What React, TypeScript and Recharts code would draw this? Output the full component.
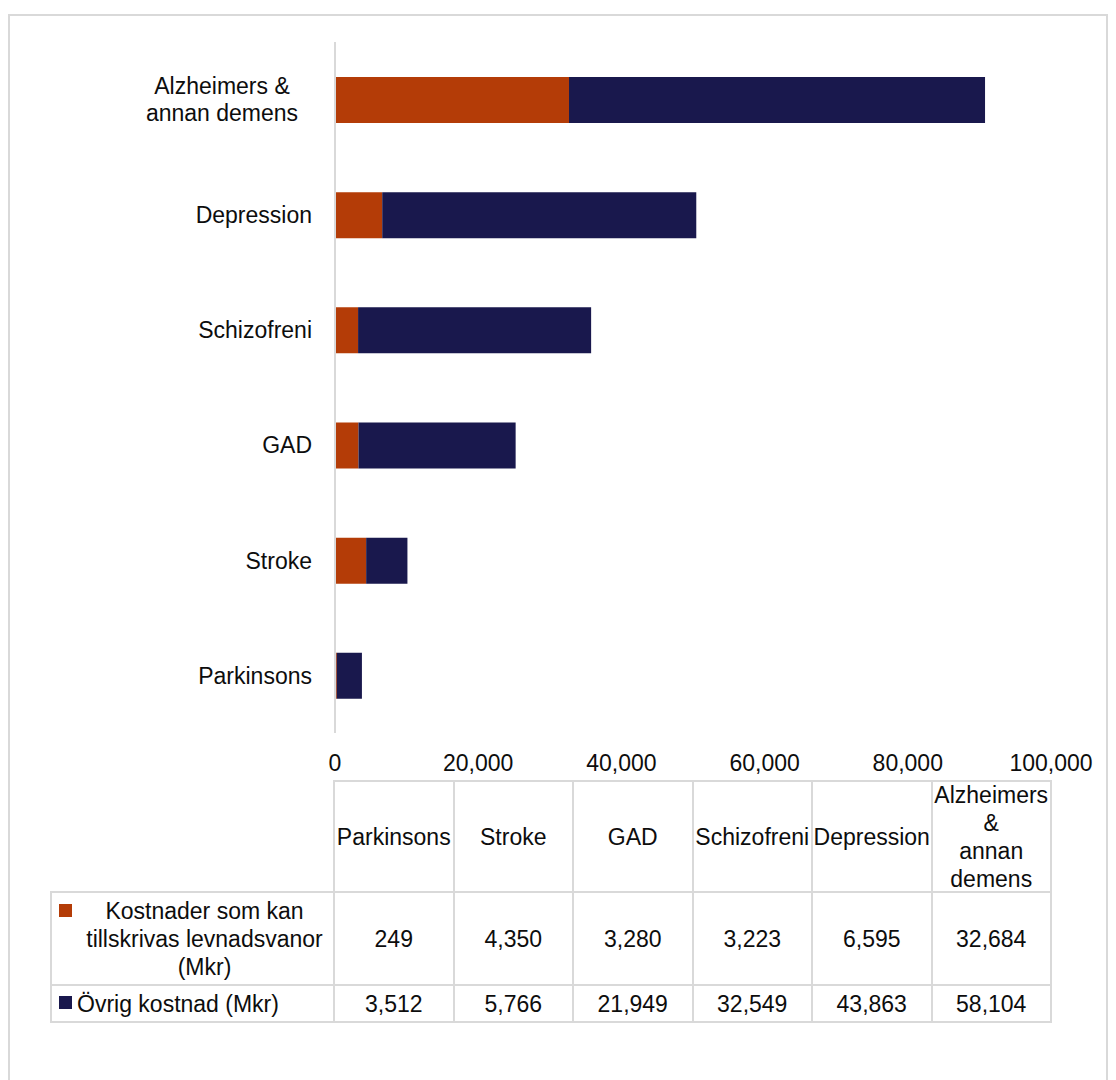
import React from 'react';
import { BarChart, Bar, XAxis, YAxis } from 'recharts';

const categories = ['Parkinsons', 'Stroke', 'GAD', 'Schizofreni', 'Depression', 'Alzheimers & annan demens'];
const lifestyleCosts = [249, 4350, 3280, 3223, 6595, 32684];
const otherCosts = [3512, 5766, 21949, 32549, 43863, 58104];
const xTicks = [0, 20000, 40000, 60000, 80000, 100000];

const seriesNames = ['Kostnader som kan tillskrivas levnadsvanor (Mkr)', 'Övrig kostnad (Mkr)'];
const seriesLabelLines = [['Kostnader som kan', 'tillskrivas levnadsvanor', '(Mkr)'], ['Övrig kostnad (Mkr)']];

const ORANGE = '#B43C07';
const NAVY = '#19184D';
const GRID = '#d9d9d9';
const FONT = '"Liberation Sans", Arial, sans-serif';
const FS = 23;

const data = categories.map((name, i) => ({
  name,
  lifestyle: lifestyleCosts[i],
  other: otherCosts[i],
}));

const fmt = (v: number) => v.toLocaleString('en-US');

// split long category names into two lines for the y axis
function wrapLabel(s: string): string[] {
  if (s.length <= 14) return [s];
  const words = s.split(' ');
  const half = Math.ceil(words.length / 2);
  return [words.slice(0, half).join(' '), words.slice(half).join(' ')];
}

const CategoryTick = ({ x, y, payload }: { x: number; y: number; payload: { value: string } }) => {
  const lines = wrapLabel(payload.value);
  if (lines.length === 1) {
    return (
      <text x={x - 23} y={y} dy="0.36em" textAnchor="end" fontSize={FS} fontFamily={FONT} fill="#0d0d0d">
        {payload.value}
      </text>
    );
  }
  const cx = x - 36 - 77;
  return (
    <text textAnchor="middle" fontSize={FS} fontFamily={FONT} fill="#0d0d0d">
      {lines.map((l, i) => (
        <tspan key={i} x={cx} y={y + (i - (lines.length - 1) / 2) * 27} dy="0.36em">
          {l}
        </tspan>
      ))}
    </text>
  );
};

// table geometry (container coords, container sits at page 8,8)
const colEdges = [43, 326, 445.5, 565, 684.5, 804, 923.5, 1043];
const rowEdges = [773, 884, 977, 1014];

function Cell({ c, r, children, align = 'center' }: { c: number; r: number; children?: React.ReactNode; align?: string }) {
  return (
    <div
      style={{
        position: 'absolute',
        left: colEdges[c] - 1,
        top: rowEdges[r] - 1,
        width: colEdges[c + 1] - colEdges[c] + 2,
        height: rowEdges[r + 1] - rowEdges[r] + 2,
        border: `2px solid ${GRID}`,
        boxSizing: 'border-box',
        display: 'flex',
        alignItems: 'center',
        justifyContent: align,
        textAlign: 'center',
        fontSize: FS,
        lineHeight: '28px',
        color: '#0d0d0d',
        background: '#fff',
      }}
    >
      {children}
    </div>
  );
}

function Swatch({ color, top }: { color: string; top: number }) {
  return (
    <div style={{ position: 'absolute', left: 7, top, width: 13, height: 13, background: color }} />
  );
}

export default function App() {
  const seriesValues = [lifestyleCosts, otherCosts];
  const seriesColors = [ORANGE, NAVY];
  return (
    <div style={{ position: 'relative', width: 1100, height: 1072, fontFamily: FONT, overflow: 'hidden' }}>
      <div
        style={{
          position: 'absolute',
          left: 0,
          top: 6,
          width: 1100,
          height: 1100,
          border: `2px solid ${GRID}`,
          boxSizing: 'border-box',
        }}
      />
      <div style={{ position: 'absolute', left: 0, top: 0 }}>
        <BarChart
          width={1100}
          height={780}
          data={data}
          layout="vertical"
          margin={{ top: 34, right: 57, bottom: 15, left: 0 }}
          barSize={46}
        >
          <XAxis
            type="number"
            domain={[0, 100000]}
            ticks={xTicks}
            tickFormatter={fmt}
            axisLine={false}
            tickLine={false}
            tickSize={0}
            tickMargin={22}
            height={40}
            interval={0}
            tick={{ fontSize: FS, fontFamily: FONT, fill: '#0d0d0d' }}
          />
          <YAxis
            type="category"
            dataKey="name"
            reversed
            width={327}
            axisLine={{ stroke: GRID, strokeWidth: 2 }}
            tickLine={false}
            tickSize={0}
            tickMargin={0}
            interval={0}
            tick={CategoryTick as any}
          />
          <Bar dataKey="lifestyle" name={seriesNames[0]} stackId="a" fill={ORANGE} isAnimationActive={false} />
          <Bar dataKey="other" name={seriesNames[1]} stackId="a" fill={NAVY} isAnimationActive={false} />
        </BarChart>
      </div>

      {/* data table */}
      {categories.map((cat, i) => (
        <Cell key={'h' + i} c={i + 1} r={0}>
          <div>
            {cat.split(' ').map((w, j) => (
              <div key={j}>{w}</div>
            ))}
          </div>
        </Cell>
      ))}
      {seriesValues.map((vals, s) => (
        <React.Fragment key={'s' + s}>
          <Cell c={0} r={s + 1} align={s === 0 ? 'center' : 'flex-start'}>
            <Swatch color={seriesColors[s]} top={s === 0 ? 11 : 10} />
            <div style={{ paddingLeft: s === 0 ? 24 : 25, textAlign: 'center' }}>
              {seriesLabelLines[s].map((l, j) => (
                <div key={j}>{l}</div>
              ))}
            </div>
          </Cell>
          {vals.map((v, i) => (
            <Cell key={'v' + s + i} c={i + 1} r={s + 1}>
              {fmt(v)}
            </Cell>
          ))}
        </React.Fragment>
      ))}
    </div>
  );
}
